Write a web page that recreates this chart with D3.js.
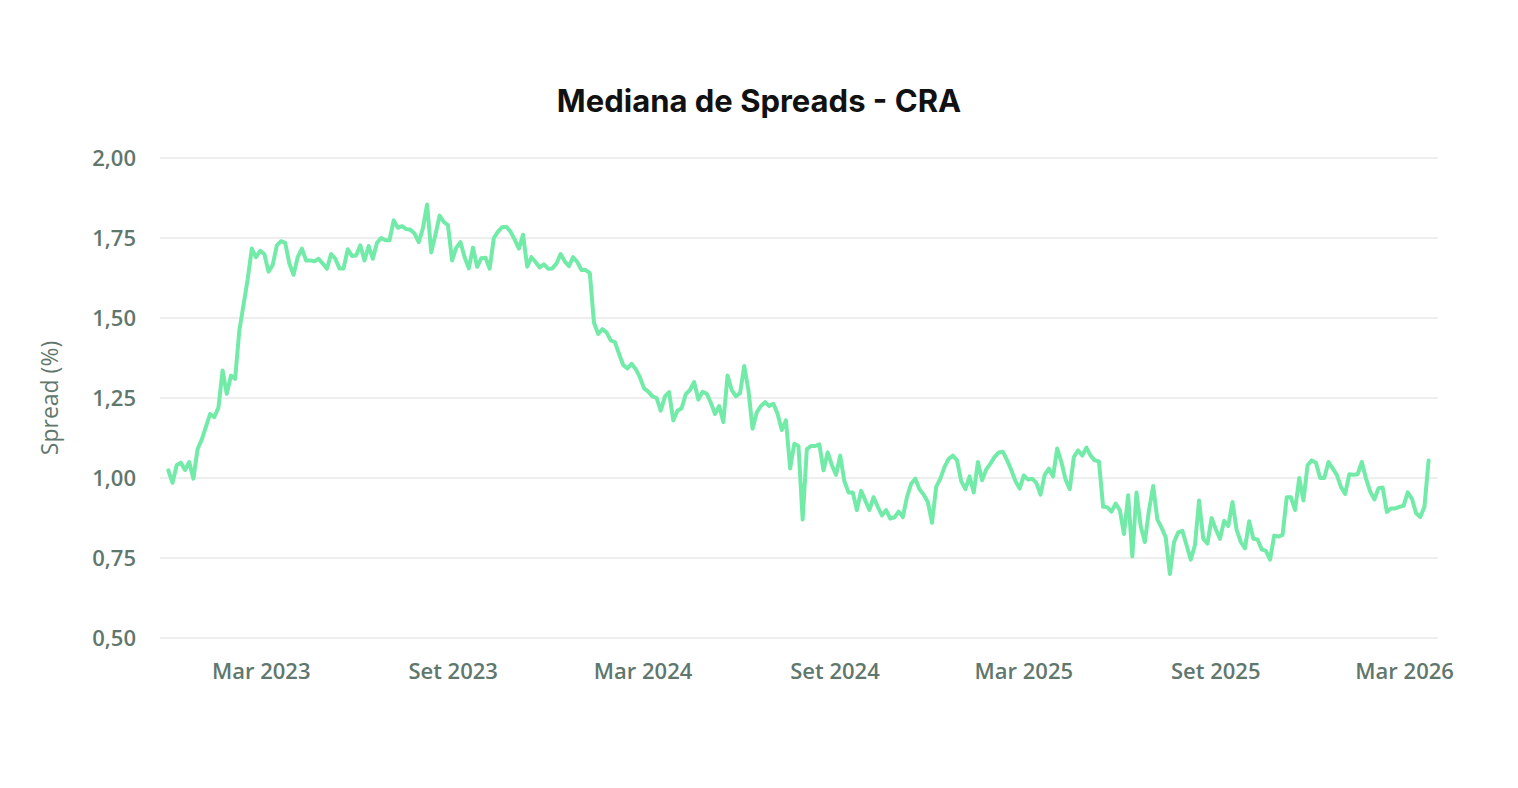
<!DOCTYPE html>
<html>
<head>
<meta charset="utf-8">
<script src="https://cdn.jsdelivr.net/npm/d3@7"></script>
<style>
  body { margin: 0; background: #fff; }
  svg { display: block; }
  .grid line { stroke: #e7eaea; stroke-width: 1.5; }
  .tick-label { font-family: "Open Sans", sans-serif; font-weight: 600; font-size: 22px; fill: #5f776d; }
</style>
</head>
<body>
<svg id="chart" width="1518" height="788"></svg>
<script>
// series sampled every 4 days from 2 Dec 2022
var firstDay = '2022-12-02';
var lastDay = '2026-03-25';
var stepDays = 4;

var spreads = [
  1.024, 0.985, 1.04, 1.048, 1.025, 1.05, 0.998, 1.09, 1.12, 1.16,
  1.2, 1.19, 1.22, 1.336, 1.263, 1.32, 1.31, 1.46, 1.54, 1.62,
  1.717, 1.69, 1.71, 1.70, 1.645, 1.665, 1.727, 1.74, 1.735, 1.67,
  1.635, 1.69, 1.717, 1.68, 1.68, 1.677, 1.685, 1.67, 1.654, 1.70,
  1.685, 1.655, 1.655, 1.715, 1.694, 1.695, 1.727, 1.68, 1.725, 1.685,
  1.735, 1.75, 1.743, 1.743, 1.805, 1.782, 1.787, 1.778, 1.776, 1.764,
  1.737, 1.78, 1.855, 1.705, 1.76, 1.82, 1.80, 1.79, 1.68, 1.72,
  1.737, 1.69, 1.655, 1.72, 1.66, 1.687, 1.688, 1.654, 1.75, 1.77,
  1.784, 1.785, 1.77, 1.745, 1.717, 1.76, 1.66, 1.69, 1.675, 1.658,
  1.668, 1.654, 1.655, 1.67, 1.70, 1.677, 1.662, 1.69, 1.675, 1.65,
  1.65, 1.64, 1.485, 1.45, 1.465, 1.455, 1.43, 1.425, 1.388, 1.353,
  1.342, 1.357, 1.34, 1.315, 1.28, 1.27, 1.255, 1.25, 1.21, 1.255,
  1.268, 1.18, 1.21, 1.218, 1.262, 1.275, 1.30, 1.245, 1.269, 1.264,
  1.235, 1.20, 1.225, 1.175, 1.32, 1.275, 1.255, 1.265, 1.35, 1.275,
  1.154, 1.205, 1.225, 1.237, 1.225, 1.232, 1.20, 1.15, 1.18, 1.03,
  1.107, 1.10, 0.87, 1.09, 1.10, 1.10, 1.105, 1.024, 1.08, 1.04,
  1.01, 1.07, 0.99, 0.955, 0.955, 0.90, 0.96, 0.93, 0.90, 0.94,
  0.91, 0.883, 0.90, 0.873, 0.877, 0.895, 0.878, 0.94, 0.982, 0.998,
  0.965, 0.948, 0.925, 0.86, 0.972, 0.998, 1.035, 1.06, 1.07, 1.055,
  0.99, 0.965, 1.005, 0.955, 1.05, 0.993, 1.027, 1.045, 1.066, 1.08,
  1.082, 1.055, 1.025, 0.99, 0.967, 1.008, 0.995, 0.998, 0.985, 0.948,
  1.01, 1.029, 1.005, 1.092, 1.05, 0.995, 0.965, 1.066, 1.086, 1.07,
  1.095, 1.07, 1.055, 1.052, 0.91, 0.909, 0.895, 0.92, 0.90, 0.825,
  0.946, 0.755, 0.955, 0.85, 0.80, 0.90, 0.975, 0.87, 0.845, 0.815,
  0.70, 0.80, 0.83, 0.835, 0.79, 0.745, 0.79, 0.93, 0.81, 0.795,
  0.875, 0.84, 0.81, 0.866, 0.85, 0.925, 0.838, 0.80, 0.78, 0.865,
  0.81, 0.808, 0.777, 0.772, 0.745, 0.82, 0.817, 0.822, 0.94, 0.94,
  0.90, 1.0, 0.93, 1.04, 1.055, 1.048, 1.0, 1.0, 1.05, 1.03,
  1.01, 0.972, 0.95, 1.012, 1.01, 1.012, 1.05, 0.998, 0.958, 0.933,
  0.968, 0.97, 0.894, 0.905, 0.905, 0.91, 0.913, 0.955, 0.935, 0.89,
  0.878, 0.91, 1.055
];

var yTicks = [0.5, 0.75, 1.0, 1.25, 1.5, 1.75, 2.0];
var xTickDates = ['2023-03-01', '2023-09-01', '2024-03-01', '2024-09-01', '2025-03-01', '2025-09-01', '2026-03-01'];
var xTickLabels = ['Mar 2023', 'Set 2023', 'Mar 2024', 'Set 2024', 'Mar 2025', 'Set 2025', 'Mar 2026'];

var title = 'Mediana de Spreads - CRA';
var yTitle = 'Spread (%)';

var margin = { top: 158, right: 80, bottom: 150, left: 160 };
var width = 1518, height = 788;
var innerWidth = width - margin.left - margin.right;
var innerHeight = height - margin.top - margin.bottom;

var parse = d3.utcParse('%Y-%m-%d');
var days = d3.utcDay.range(parse(firstDay), parse(lastDay), stepDays);
var data = spreads.slice(0, days.length).map(function (v, i) {
  return { date: days[i], value: v };
});

var x = d3.scaleUtc()
  .domain([parse('2022-11-24'), parse('2026-04-02')])
  .range([0, innerWidth]);
var y = d3.scaleLinear()
  .domain([0.5, 2.0])
  .range([innerHeight, 0]);

var fmt = function (v) { return d3.format('.2f')(v).replace('.', ','); };

var svg = d3.select('#chart');
var g = svg.append('g')
  .attr('transform', 'translate(' + margin.left + ',' + margin.top + ')');

// horizontal grid lines
g.append('g')
  .attr('class', 'grid')
  .selectAll('line')
  .data(yTicks)
  .enter().append('line')
  .attr('x1', 0)
  .attr('x2', innerWidth)
  .attr('y1', function (d) { return y(d); })
  .attr('y2', function (d) { return y(d); });

// y labels
g.append('g')
  .selectAll('text')
  .data(yTicks)
  .enter().append('text')
  .attr('class', 'tick-label')
  .attr('x', -24)
  .attr('y', function (d) { return y(d); })
  .attr('dy', '0.35em')
  .attr('text-anchor', 'end')
  .text(fmt);

// x labels
g.append('g')
  .selectAll('text')
  .data(xTickDates)
  .enter().append('text')
  .attr('class', 'tick-label')
  .attr('x', function (d) { return x(parse(d)); })
  .attr('y', innerHeight + 41)
  .attr('text-anchor', 'middle')
  .text(function (d, i) { return xTickLabels[i]; });

var line = d3.line()
  .x(function (d) { return x(d.date); })
  .y(function (d) { return y(d.value); });

g.append('path')
  .datum(data)
  .attr('fill', 'none')
  .attr('stroke', '#72eaa8')
  .attr('stroke-width', 4)
  .attr('stroke-linejoin', 'round')
  .attr('stroke-linecap', 'round')
  .attr('d', line);

svg.append('text')
  .attr('x', 759)
  .attr('y', 112)
  .attr('text-anchor', 'middle')
  .style('font-family', 'Inter, sans-serif')
  .style('font-weight', 700)
  .style('font-size', '31px')
  .style('fill', '#111')
  .text(title);

svg.append('text')
  .attr('transform', 'translate(58,' + (margin.top + y(1.25)) + ') rotate(-90)')
  .attr('text-anchor', 'middle')
  .style('font-family', '"Open Sans", sans-serif')
  .style('font-size', '23px')
  .style('fill', '#5f776d')
  .text(yTitle);
</script>
</body>
</html>
